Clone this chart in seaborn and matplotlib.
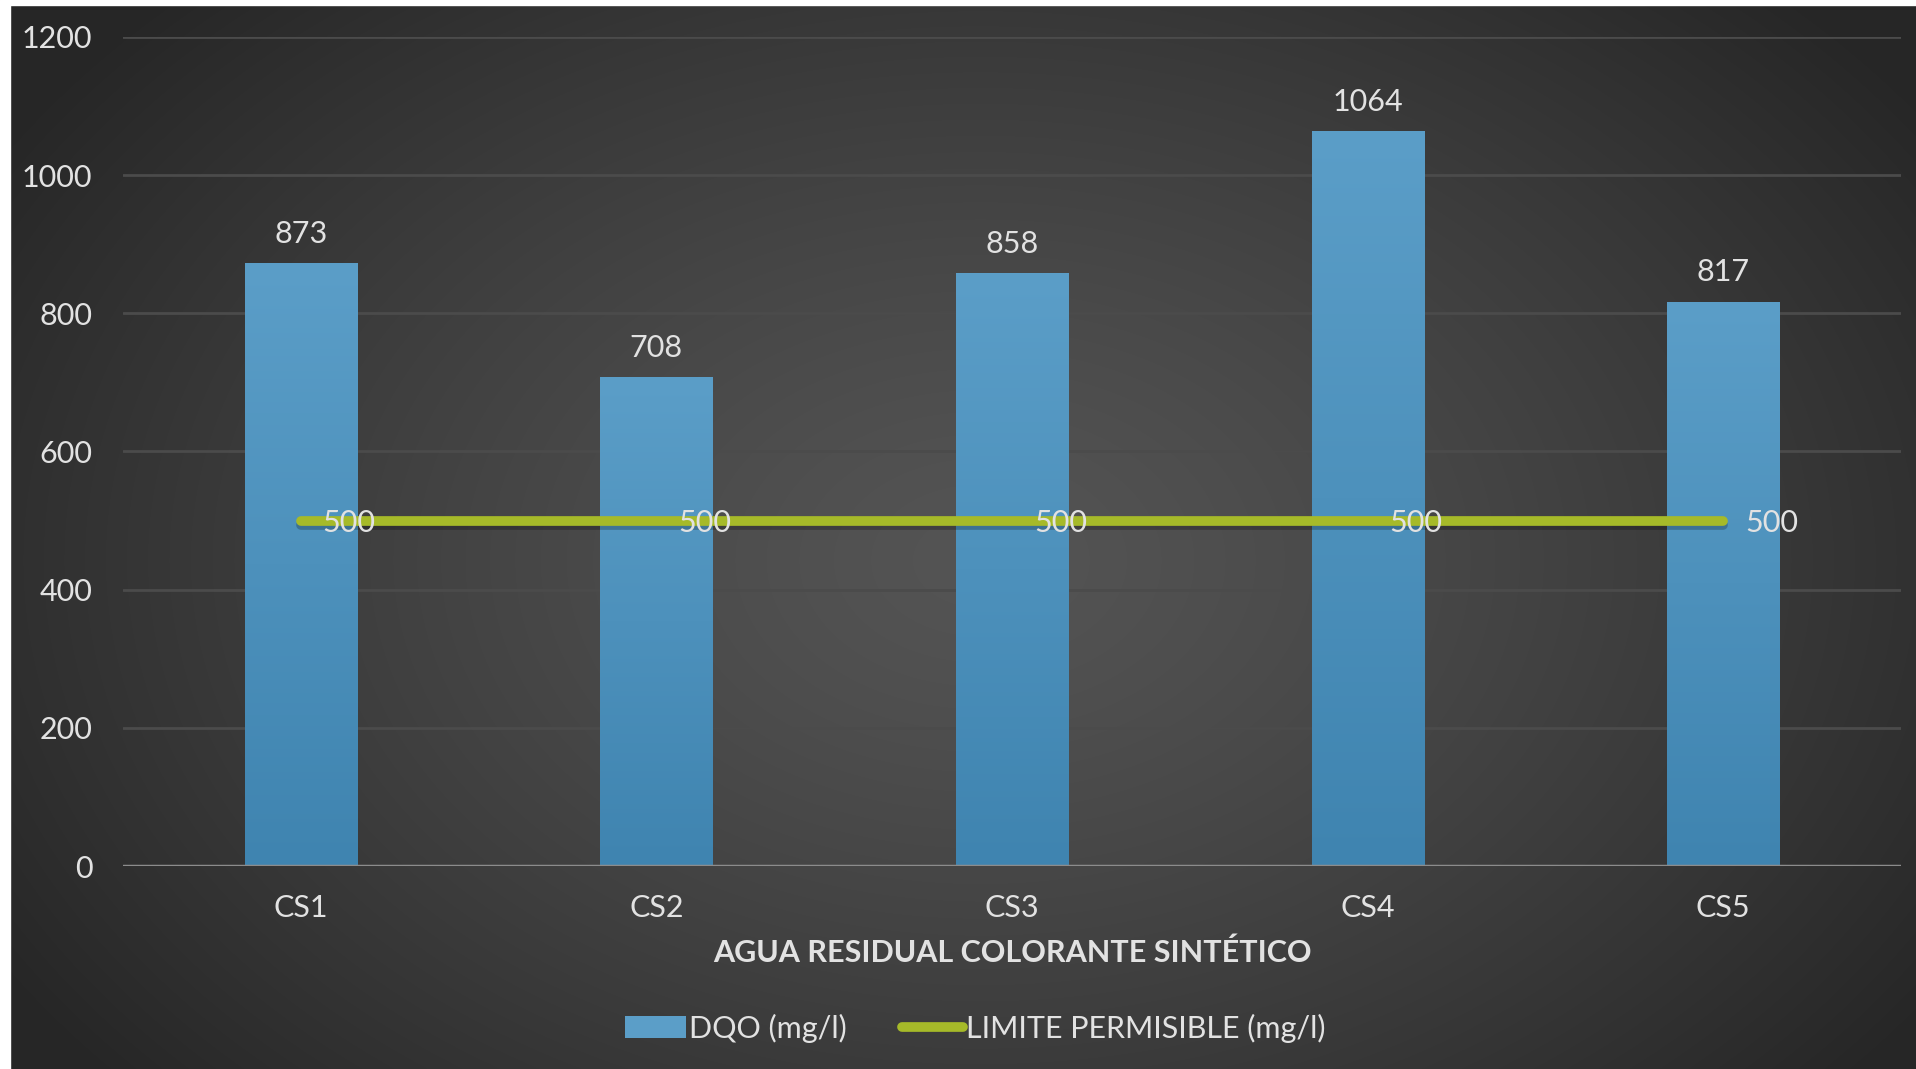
import numpy as np
import pandas as pd
import matplotlib
matplotlib.use("Agg")
import matplotlib.pyplot as plt
import matplotlib.patheffects as pe
from matplotlib.patches import Rectangle
from matplotlib.lines import Line2D
from matplotlib.patches import Patch
import seaborn as sns

# ---- data ----
categories = ["CS1", "CS2", "CS3", "CS4", "CS5"]
dqo = [873, 708, 858, 1064, 817]
limite = [500, 500, 500, 500, 500]
y_ticks = [0, 200, 400, 600, 800, 1000, 1200]
x_title = "AGUA RESIDUAL COLORANTE SINTÉTICO"
legend_labels = ["DQO (mg/l)", "LIMITE PERMISIBLE (mg/l)"]

sns.set_theme(style="dark")
plt.rcParams["font.family"] = ["Lato", "DejaVu Sans"]

TXT = "#e2e2e2"
BAR_TOP = "#5b9ec8"
BAR_BOT = "#3f84b0"
GREEN = "#a6ba29"
FS = 22

W, H = 1916, 1069
fig = plt.figure(figsize=(W / 100, H / 100), dpi=100)

# background radial gradient
bg = fig.add_axes([0, 0, 1, 1], zorder=0)
yy, xx = np.mgrid[0:H, 0:W]
cx, cy = 980, 560
r = np.sqrt(((xx - cx) / 1150.0) ** 2 + ((yy - cy) / 800.0) ** 2)
r = np.clip(r, 0, 1)
light, dark = 0.33, 0.15
g = light + (dark - light) * r ** 1.3
bg.imshow(np.dstack([g, g, g]), extent=[0, W, H, 0], aspect="auto")
bg.set_xlim(0, W)
bg.set_ylim(H, 0)
bg.axis("off")
# white borders from slide
bg.add_patch(Rectangle((0, 0), W, 5, color="white", zorder=5))
bg.add_patch(Rectangle((0, 0), 10, H, color="white", zorder=5))

ax = fig.add_axes([123 / W, (H - 866) / H, 1778 / W, (866 - 37) / H], zorder=2)
ax.set_facecolor("none")

df = pd.DataFrame({"cat": categories, "dqo": dqo})
sns.barplot(data=df, x="cat", y="dqo", ax=ax, width=0.315, color=BAR_BOT,
            saturation=1, zorder=3)

# vertical gradient on bars
grad = np.linspace(0, 1, 256).reshape(-1, 1)
c_top = np.array(matplotlib.colors.to_rgb(BAR_TOP))
c_bot = np.array(matplotlib.colors.to_rgb(BAR_BOT))
img = c_top[None, None, :] * (1 - grad[:, :, None]) + c_bot[None, None, :] * grad[:, :, None]
for p in ax.patches:
    x0, y0 = p.get_x(), p.get_y()
    w, h = p.get_width(), p.get_height()
    im = ax.imshow(img, extent=[x0, x0 + w, y0, y0 + h], aspect="auto",
                   origin="upper", zorder=3)
    im.set_clip_path(p)
    p.set_facecolor("none")
    p.set_edgecolor("none")
    ax.text(x0 + w / 2, h + 22, f"{int(h)}", ha="center", va="bottom",
            color=TXT, fontsize=FS, zorder=6)

pos = np.arange(len(categories))
sns.lineplot(x=pos, y=limite, ax=ax, color=GREEN, linewidth=7, zorder=4,
             solid_capstyle="round",
             path_effects=[pe.SimpleLineShadow(offset=(0, -3), shadow_color="black", alpha=0.22),
                           pe.Normal()])
for xp, v in zip(pos, limite):
    ax.annotate(f"{v}", (xp, v), xytext=(22, 0), textcoords="offset pixels",
                ha="left", va="center_baseline", color=TXT, fontsize=FS, zorder=6)

ax.set_xlim(-0.5, len(categories) - 0.5)
ax.set_ylim(0, 1200)
ax.set_yticks(y_ticks)
ax.set_yticklabels([str(t) for t in y_ticks])
ax.grid(axis="y", color="#4b4b4b", linewidth=2, zorder=1)
ax.grid(axis="x", visible=False)
ax.axhline(0, color="#8c8c8c", linewidth=2.5, zorder=5)
for s in ax.spines.values():
    s.set_visible(False)
ax.tick_params(axis="both", length=0, colors=TXT, labelsize=FS)
ax.tick_params(axis="y", pad=22)
ax.tick_params(axis="x", pad=20)
ax.set_ylabel("")
ax.set_xlabel(x_title, color=TXT, fontsize=FS, fontweight="bold", labelpad=12)

handles = [Patch(facecolor=BAR_TOP, edgecolor="none"),
           Line2D([0], [0], color=GREEN, linewidth=7, solid_capstyle="round")]
leg = fig.legend(handles, legend_labels, loc="center", bbox_to_anchor=(975 / W, 1 - 1028 / H),
                 ncol=2, frameon=False, fontsize=FS, handlelength=2.0, handletextpad=0.1,
                 columnspacing=1.8)
for t in leg.get_texts():
    t.set_color(TXT)

fig.savefig("out.png", dpi=100)
